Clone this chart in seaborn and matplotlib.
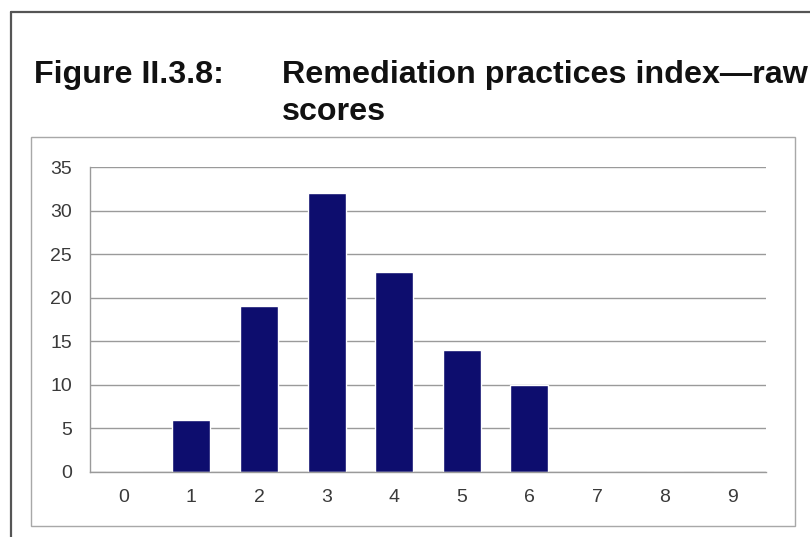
import matplotlib
matplotlib.use("Agg")
import matplotlib.pyplot as plt
from matplotlib.lines import Line2D
from matplotlib.patches import Rectangle
import seaborn as sns
import pandas as pd

# Data
scores = ["0", "1", "2", "3", "4", "5", "6", "7", "8", "9"]
counts = [0, 6, 19, 32, 23, 14, 10, 0, 0, 0]
y_ticks = [0, 5, 10, 15, 20, 25, 30, 35]
title_label = "Figure II.3.8:"
title_line1 = "Remediation practices index\u2014raw"
title_line2 = "scores"

sns.set_theme(style="white")
plt.rcParams["font.family"] = ["Liberation Sans", "DejaVu Sans"]

W, H = 810, 537
fig = plt.figure(figsize=(W / 100, H / 100), dpi=100)
fig.patch.set_facecolor("white")

def fx(px):
    return px / W

def fy(py):
    return 1 - py / H

left, right, top, bottom = 90, 766, 167, 472
ax = fig.add_axes([fx(left), fy(bottom), fx(right - left), (bottom - top) / H])

df = pd.DataFrame({"score": scores, "count": counts})
sns.barplot(data=df, x="score", y="count", color="#0d0d6e", saturation=1,
            width=0.56, ax=ax, order=scores)

ax.set_ylim(0, 35)
ax.set_xlim(-0.5, len(scores) - 0.5)
ax.set_yticks(y_ticks)
ax.set_yticklabels([str(v) for v in y_ticks])
ax.set_xlabel("")
ax.set_ylabel("")
ax.yaxis.grid(True, color="#9a9a9a", linewidth=1.0)
ax.set_axisbelow(True)
for s in ["top", "right"]:
    ax.spines[s].set_visible(False)
ax.spines["left"].set_color("#9a9a9a")
ax.spines["left"].set_linewidth(1.0)
ax.spines["bottom"].set_color("#9a9a9a")
ax.spines["bottom"].set_linewidth(1.0)
ax.tick_params(axis="both", length=0, labelsize=14, colors="#3a3a3a")
ax.tick_params(axis="y", pad=13)
ax.tick_params(axis="x", pad=12)

# Outer frame lines
fig.add_artist(Line2D([fx(11), fx(11)], [fy(12), fy(537)], color="#555555", linewidth=1.6))
fig.add_artist(Line2D([fx(11), fx(810)], [fy(12), fy(12)], color="#555555", linewidth=1.6))
# Inner chart box
fig.add_artist(Rectangle((fx(31), fy(526)), fx(795 - 31), (526 - 137) / H,
                         fill=False, edgecolor="#a8a8a8", linewidth=1.0))

# Title
fs = 23.2
fig.text(fx(34), fy(83), title_label, fontsize=fs, fontweight="bold",
         color="#111111", va="baseline", ha="left")
fig.text(fx(282), fy(83), title_line1, fontsize=fs, fontweight="bold",
         color="#111111", va="baseline", ha="left")
fig.text(fx(282), fy(120), title_line2, fontsize=fs, fontweight="bold",
         color="#111111", va="baseline", ha="left")

fig.savefig("out.png", dpi=100, facecolor="white")
